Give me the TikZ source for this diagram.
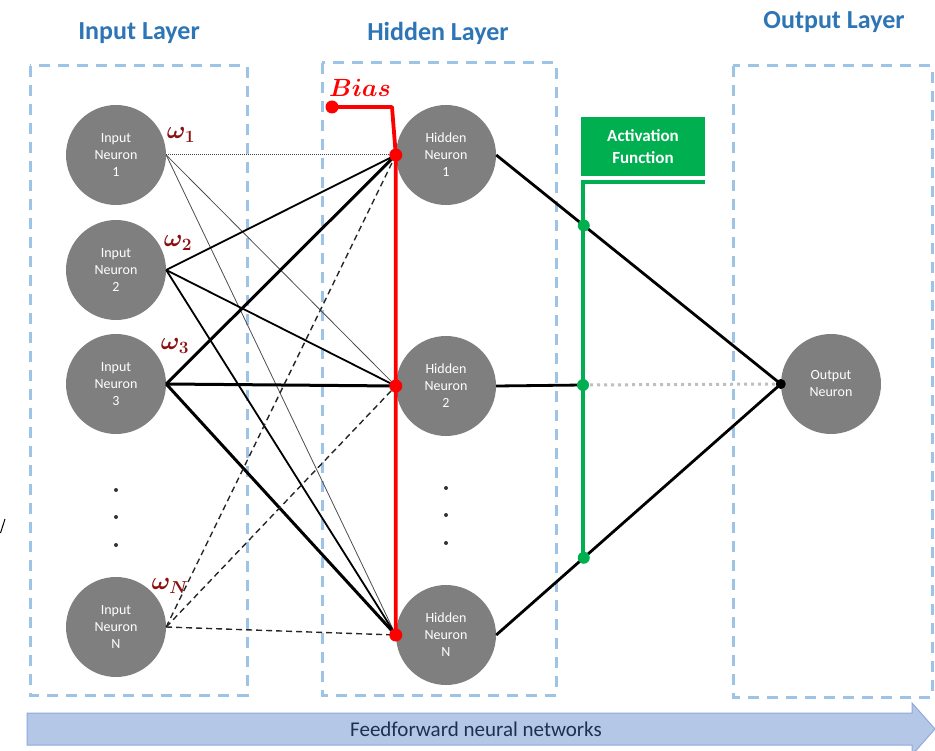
\documentclass[tikz,border=0pt]{standalone}
\usepackage{fontspec}
\usepackage{bm}
\setmainfont{Carlito}
\definecolor{ngrey}{HTML}{7F7F7F}
\definecolor{tblue}{HTML}{2E75B6}
\definecolor{lblue}{HTML}{9DC3E6}
\definecolor{bred}{HTML}{FF0000}
\definecolor{agreen}{HTML}{00B050}
\definecolor{wred}{HTML}{8B1010}
\definecolor{afill}{HTML}{B4C7E7}
\definecolor{aedge}{HTML}{8FAADC}
\definecolor{atext}{HTML}{1F2F50}
\begin{document}
\begin{tikzpicture}[x=1pt,y=-1pt,
  neuron/.style={circle,fill=ngrey,minimum size=100pt,inner sep=0pt,text=white,align=center,font=\fontsize{14}{17}\selectfont},
  title/.style={text=tblue,font=\fontsize{26}{30}\selectfont\bfseries},
  layerbox/.style={draw=lblue,line width=3pt,dash pattern=on 11pt off 8pt},
  wlabel/.style={text=wred,font=\fontsize{25}{27}\selectfont},
  dotc/.style={circle,fill=#1,inner sep=0pt,minimum size=13pt},
  vdot/.style={circle,fill=black!80,inner sep=0pt,minimum size=4pt},
  thinw/.style={draw=black!70,line width=0.8pt},
  dotw/.style={draw=black!75,line width=1pt,densely dotted},
  medw/.style={draw=black,line width=1.8pt},
  thickw/.style={draw=black,line width=3pt},
  dashw/.style={draw=black!85,line width=1.4pt,dash pattern=on 6pt off 4pt},
  outw/.style={draw=black,line width=2.8pt}
]
\useasboundingbox (0,0) rectangle (935,751);

% titles
\node[title] (tin) at (139,33) {Input Layer};
\node[title] (thid) at (438,33) {Hidden Layer};
\node[title] (tout) at (834,22) {Output Layer};

% layer boxes
\draw[layerbox] (30,66) rectangle (247,695);
\draw[layerbox] (322,63) rectangle (556,695);
\draw[layerbox] (733,66) rectangle (932,697);

% neurons
\node[neuron] (i1) at (116,155) {Input\\Neuron\\1};
\node[neuron] (i2) at (116,270) {Input\\Neuron\\2};
\node[neuron] (i3) at (116,384) {Input\\Neuron\\3};
\node[neuron] (iN) at (116,627) {Input\\Neuron\\N};
\node[neuron] (h1) at (446,155) {Hidden\\Neuron\\1};
\node[neuron] (h2) at (446,386) {Hidden\\Neuron\\2};
\node[neuron] (hN) at (446,635) {Hidden\\Neuron\\N};
\node[neuron] (o) at (831,384) {Output\\Neuron};

% vertical dots
\foreach \y [count=\k] in {490,517,545} {
  \node[vdot] (vi\k) at (116,\y) {};
  \node[vdot] (vh\k) at (446,\y-2) {};
}

% input -> hidden
\draw[dotw] (i1.east) -- (h1.west);
\draw[thinw] (i1.east) -- (h2.west);
\draw[thinw] (i1.east) -- (hN.west);
\draw[medw] (i2.east) -- (h1.west);
\draw[medw] (i2.east) -- (h2.west);
\draw[medw] (i2.east) -- (hN.west);
\draw[thickw] (i3.east) -- (h1.west);
\draw[thickw] (i3.east) -- (h2.west);
\draw[thickw] (i3.east) -- (hN.west);
\draw[dashw] (iN.east) -- (h1.west);
\draw[dashw] (iN.east) -- (h2.west);
\draw[dashw] (iN.east) -- (hN.west);

% weight labels
\node[wlabel] (w1) at (181,135) {$\bm{\omega_1}$};
\node[wlabel] (w2) at (178,243) {$\bm{\omega_2}$};
\node[wlabel] (w3) at (175,346) {$\bm{\omega_3}$};
\node[wlabel] (wN) at (170,586) {$\bm{\omega_N}$};

% bias
\coordinate (bstart) at (332,107);
\coordinate (bcorner) at (392,107);
\draw[bred,line width=3.8pt,line join=round] (bstart) -- (bcorner) -- (h1.west) -- (hN.west);
\node[dotc=bred] (bd0) at (bstart) {};
\node[dotc=bred] (bd1) at (h1.west) {};
\node[dotc=bred] (bd2) at (h2.west) {};
\node[dotc=bred] (bd3) at (hN.west) {};
\node[text=bred,font=\fontsize{23}{25}\selectfont] (bias) at (360,88) {$\bm{Bias}$};

% hidden -> output
\path (h1.east) -- (o.west) coordinate[pos=0.3077] (g1);
\path (hN.east) -- (o.west) coordinate[pos=0.3077] (g3);
\coordinate (g2) at (583,385);
\draw[outw] (h1.east) -- (o.west);
\draw[outw] (hN.east) -- (o.west);
\draw[outw] (h2.east) -- (g2);
\draw[draw=black!25,line width=3pt,dash pattern=on 3pt off 4pt] (g2) -- (o.west);

% activation function
\node[fill=agreen,minimum width=124pt,minimum height=59pt,inner sep=0pt,text=white,align=center,font=\fontsize{17}{22}\selectfont\bfseries] (af) at (643,147) {Activation\\Function};
\coordinate (ga) at (705,182);
\coordinate (gb) at (583,182);
\coordinate (gc) at (583,560);
\draw[agreen,line width=3.2pt] (ga) -- (gb) -- (gc);
\node[dotc=agreen,minimum size=12pt] (gd1) at (g1) {};
\node[dotc=agreen,minimum size=12pt] (gd2) at (g2) {};
\node[dotc=agreen,minimum size=12pt] (gd3) at (g3) {};
\node[circle,fill=black,inner sep=0pt,minimum size=10pt] (od) at (o.west) {};

% feedforward arrow
\draw[fill=afill,draw=aedge,line width=1pt] (27,713) -- (912,713) -- (912,703) -- (935,729) -- (912,755) -- (912,745) -- (27,745) -- cycle;
\node[text=atext,font=\fontsize{21}{23}\selectfont] (ff) at (476,729) {Feedforward neural networks};

% stray mark at left edge
\coordinate (m1) at (0.5,533);
\coordinate (m2) at (5,519);
\draw[black,line width=1pt] (m1) -- (m2);
\end{tikzpicture}
\end{document}
